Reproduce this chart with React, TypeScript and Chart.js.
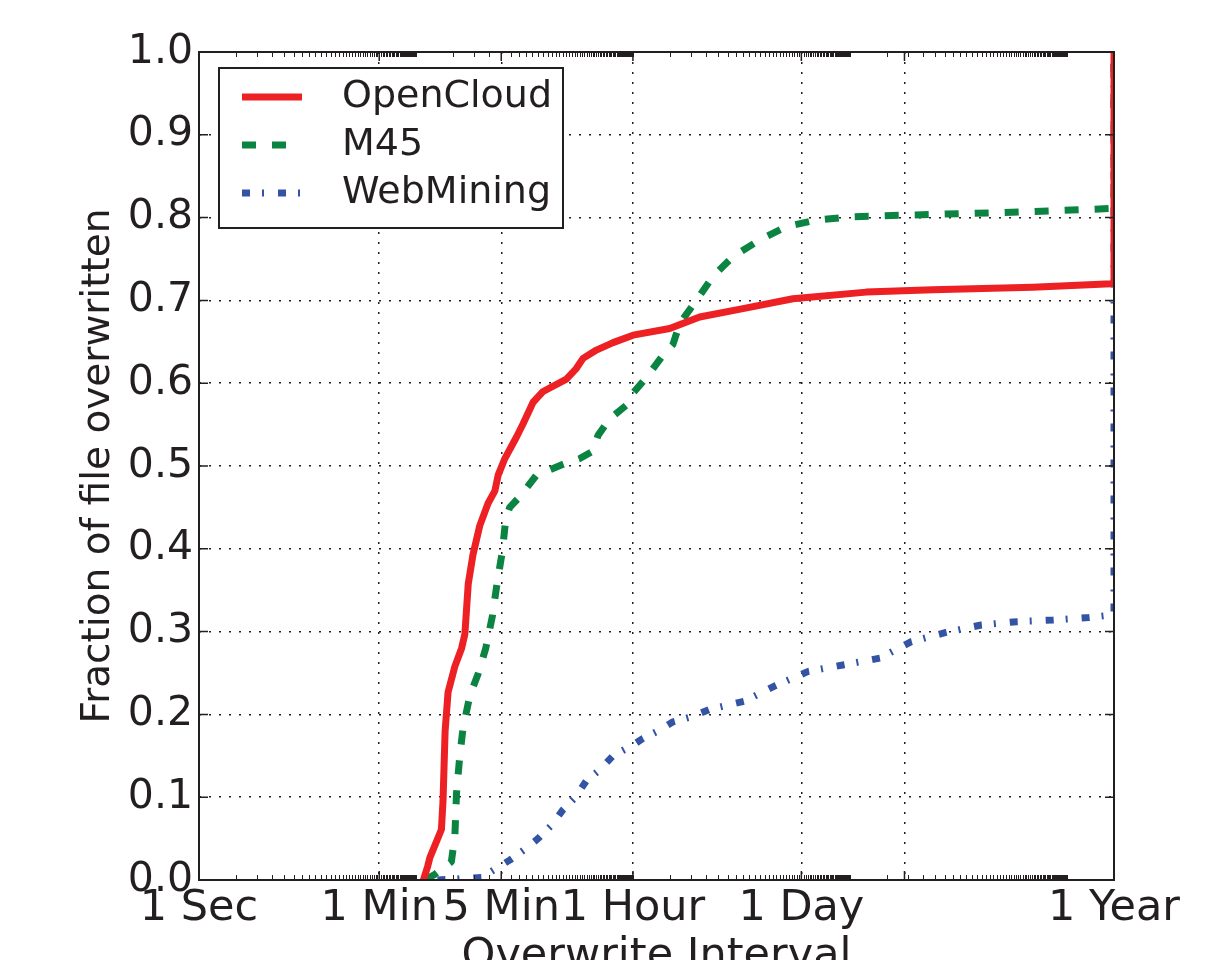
import React, { useEffect, useRef } from 'react';
import { Chart, registerables } from 'chart.js';

Chart.register(...registerables);

// ---- axis definitions (seconds on a log axis) ----
const YEAR = 31536000;
const xTickValues = [1, 30, 300, 3600, 86400, 604800, 31536000];
const xTickLabels = ['1 Sec', '1 Min', '5 Min', '1 Hour', '1 Day', '', '1 Year'];
const yTickValues = [0, 0.1, 0.2, 0.3, 0.4, 0.5, 0.6, 0.7, 0.8, 0.9, 1.0];
const minorTickUnits = [1, 60, 3600, 216000];
const minorTickCount = 60;

// ---- series ----
const seriesNames = ['OpenCloud', 'M45', 'WebMining'];
const seriesColors = ['#ed2024', '#0b8442', '#3353a5'];
const seriesDashes = [[], [14, 16], [8, 12, 2, 14]];

const openCloudT = [69, 75, 78, 97, 100, 104, 110, 125, 142, 151, 161, 176, 200, 234, 266, 283, 321, 400, 453, 547, 661, 1026, 1240, 1404, 1807, 2472, 3606, 7200, 12680, 28700, 73700, 293900, 1032000, 6810000, 29850000, 31536000, 31536000];
const openCloudF = [0.0, 0.017, 0.027, 0.061, 0.096, 0.18, 0.227, 0.258, 0.28, 0.297, 0.358, 0.393, 0.428, 0.455, 0.47, 0.489, 0.509, 0.535, 0.551, 0.577, 0.59, 0.605, 0.618, 0.63, 0.64, 0.649, 0.658, 0.666, 0.68, 0.69, 0.702, 0.71, 0.713, 0.716, 0.72, 0.72, 1.0];

const m45T = [71, 86, 117, 125, 129, 137, 146, 166, 194, 224, 254, 277, 307, 327, 352, 426, 583, 964, 1320, 1694, 1863, 2323, 3281, 3606, 4645, 6350, 7670, 8700, 11910, 16290, 23770, 39340, 65040, 114600, 228400, 625000, 3631000, 21100000, 29850000, 31536000, 31536000];
const m45F = [0.0, 0.007, 0.022, 0.053, 0.105, 0.149, 0.184, 0.223, 0.249, 0.28, 0.319, 0.358, 0.398, 0.437, 0.45, 0.463, 0.489, 0.502, 0.509, 0.518, 0.537, 0.557, 0.575, 0.588, 0.607, 0.634, 0.647, 0.672, 0.7, 0.729, 0.753, 0.773, 0.789, 0.797, 0.801, 0.803, 0.806, 0.81, 0.811, 0.811, 1.0];

const webMiningT = [90, 207, 266, 352, 467, 601, 774, 963, 1200, 1497, 1923, 2473, 3600, 4354, 5780, 7670, 10840, 15310, 29560, 53560, 98460, 194000, 381300, 688500, 1327000, 2578000, 5067000, 9980000, 19600000, 29850000, 31536000, 31536000];
const webMiningF = [0.0, 0.003, 0.013, 0.024, 0.037, 0.05, 0.066, 0.085, 0.099, 0.12, 0.133, 0.15, 0.163, 0.171, 0.18, 0.191, 0.197, 0.206, 0.216, 0.235, 0.252, 0.26, 0.268, 0.288, 0.299, 0.308, 0.312, 0.314, 0.317, 0.32, 0.32, 1.0];

const seriesT = [openCloudT, m45T, webMiningT];
const seriesF = [openCloudF, m45F, webMiningF];

const TEXT = '#231f20';
const FONT = '"DejaVu Sans", "Liberation Sans", sans-serif';

const decorPlugin = {
  id: 'decor',
  afterDatasetsDraw(chart: any) {
    const { ctx, chartArea: a, scales } = chart;
    const x = scales.x;
    const y = scales.y;
    ctx.save();
    ctx.strokeStyle = '#231f20';
    // minor x ticks (top and bottom, inward)
    ctx.lineWidth = 1;
    ctx.beginPath();
    for (const u of minorTickUnits) {
      for (let n = 1; n <= minorTickCount; n++) {
        const v = u * n;
        if (v < x.min || v > x.max) continue;
        const px = Math.round(x.getPixelForValue(v)) + 0.5;
        ctx.moveTo(px, a.bottom);
        ctx.lineTo(px, a.bottom - 5);
        ctx.moveTo(px, a.top);
        ctx.lineTo(px, a.top + 5);
      }
    }
    ctx.stroke();
    // major x ticks
    ctx.lineWidth = 1.5;
    ctx.beginPath();
    for (const v of xTickValues) {
      const px = x.getPixelForValue(v);
      ctx.moveTo(px, a.bottom);
      ctx.lineTo(px, a.bottom - 9);
      ctx.moveTo(px, a.top);
      ctx.lineTo(px, a.top + 9);
    }
    // major y ticks (left and right, inward)
    for (const v of yTickValues) {
      const py = y.getPixelForValue(v);
      ctx.moveTo(a.left, py);
      ctx.lineTo(a.left + 9, py);
      ctx.moveTo(a.right, py);
      ctx.lineTo(a.right - 9, py);
    }
    ctx.stroke();
    // frame
    ctx.lineWidth = 2;
    ctx.strokeRect(a.left, a.top, a.right - a.left, a.bottom - a.top);

    // legend
    const lx = a.left + 20;
    const ly = a.top + 16;
    const lw = 344;
    const lh = 160;
    ctx.fillStyle = '#ffffff';
    ctx.fillRect(lx, ly, lw, lh);
    ctx.lineWidth = 2;
    ctx.strokeStyle = '#231f20';
    ctx.strokeRect(lx, ly, lw, lh);
    chart.data.datasets.forEach((ds: any, i: number) => {
      const cy = ly + 29 + i * 48;
      ctx.save();
      ctx.strokeStyle = ds.borderColor;
      ctx.lineWidth = ds.borderWidth;
      ctx.lineCap = 'butt';
      ctx.setLineDash(ds.borderDash || []);
      ctx.beginPath();
      ctx.moveTo(lx + 23, cy);
      ctx.lineTo(lx + 83, cy);
      ctx.stroke();
      ctx.restore();
      ctx.fillStyle = TEXT;
      ctx.font = `38px ${FONT}`;
      ctx.textAlign = 'left';
      ctx.textBaseline = 'middle';
      ctx.fillText(ds.label, lx + 123, cy);
    });
    ctx.restore();
  },
};

export default function App() {
  const canvasRef = useRef<HTMLCanvasElement | null>(null);

  useEffect(() => {
    const canvas = canvasRef.current;
    if (!canvas) return;
    const datasets = seriesNames.map((name, i) => ({
      label: name,
      data: seriesT[i].map((t, k) => ({ x: t, y: seriesF[i][k] })),
      borderColor: seriesColors[i],
      backgroundColor: seriesColors[i],
      borderWidth: 7,
      borderDash: seriesDashes[i],
      borderCapStyle: 'butt' as const,
      borderJoinStyle: 'round' as const,
      pointRadius: 0,
      fill: false,
      tension: 0,
    }));

    const chart = new Chart(canvas, {
      type: 'line',
      data: { datasets },
      plugins: [decorPlugin],
      options: {
        animation: false,
        responsive: false,
        devicePixelRatio: 1,
        parsing: true,
        layout: { padding: { top: 52, right: 112, left: 0, bottom: 0 } },
        plugins: {
          legend: { display: false },
          tooltip: { enabled: false },
        },
        scales: {
          x: {
            type: 'logarithmic',
            min: 1,
            max: YEAR,
            afterBuildTicks: (s: any) => {
              s.ticks = xTickValues.map((v) => ({ value: v }));
            },
            afterFit: (s: any) => {
              s.height = 80;
            },
            ticks: {
              autoSkip: false,
              maxRotation: 0,
              minRotation: 0,
              padding: 3,
              color: TEXT,
              font: { family: FONT, size: 43 },
              callback: (v: any) => {
                const idx = xTickValues.indexOf(Number(v));
                return idx >= 0 ? xTickLabels[idx] : '';
              },
            },
            grid: {
              drawTicks: false,
              color: '#231f20',
              lineWidth: 1.5,
            },
            border: { display: false, dash: [2, 8] },
            title: {
              display: true,
              text: 'Overwrite Interval',
              color: TEXT,
              font: { family: FONT, size: 43 },
              padding: { top: 0, bottom: -23 },
            },
          },
          y: {
            type: 'linear',
            min: 0,
            max: 1,
            afterBuildTicks: (s: any) => {
              s.ticks = yTickValues.map((v) => ({ value: v }));
            },
            afterFit: (s: any) => {
              s.width = 199;
            },
            ticks: {
              padding: 6,
              color: TEXT,
              font: { family: FONT, size: 41 },
              callback: (v: any) => Number(v).toFixed(1),
            },
            grid: {
              drawTicks: false,
              color: '#231f20',
              lineWidth: 1.5,
            },
            border: { display: false, dash: [2, 8] },
            title: {
              display: true,
              text: 'Fraction of file overwritten',
              color: TEXT,
              font: { family: FONT, size: 39 },
              padding: { top: 75, bottom: 0 },
            },
          },
        },
      } as any,
    });
    return () => chart.destroy();
  }, []);

  return (
    <div style={{ position: 'fixed', left: 0, top: 0, width: 1226, height: 960, background: '#fff', overflow: 'hidden' }}>
      <canvas ref={canvasRef} width={1226} height={960} style={{ width: '1226px', height: '960px', display: 'block' }} />
    </div>
  );
}
